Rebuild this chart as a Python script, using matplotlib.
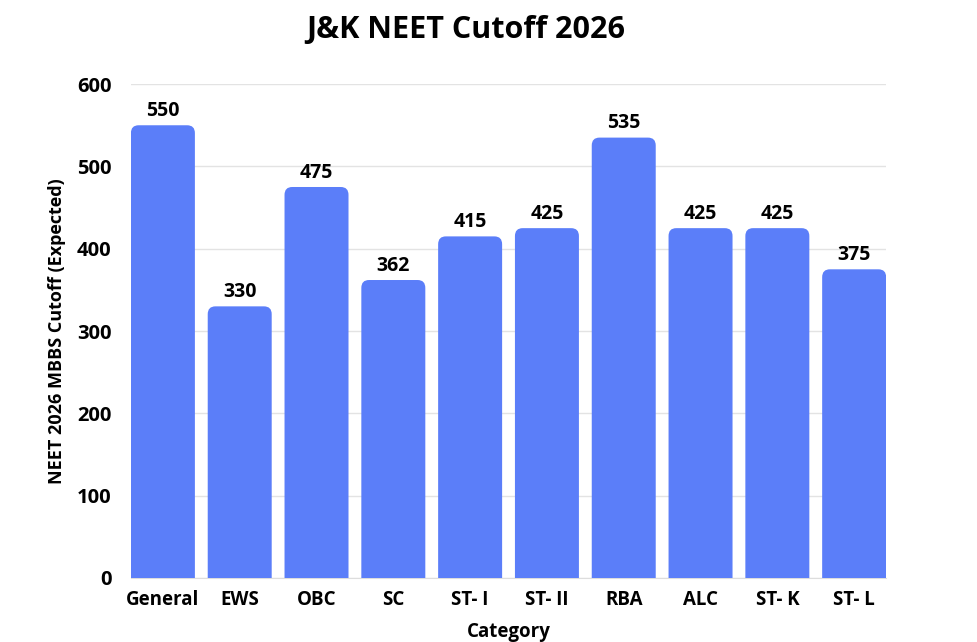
import matplotlib
matplotlib.use('Agg')
import matplotlib.pyplot as plt
from matplotlib.patches import FancyBboxPatch

# data
categories = ['General', 'EWS', 'OBC', 'SC', 'ST- I', 'ST- II', 'RBA', 'ALC', 'ST- K', 'ST- L']
cutoffs = [550, 330, 475, 362, 415, 425, 535, 425, 425, 375]
yticks = [0, 100, 200, 300, 400, 500, 600]

bar_color = '#5b7ef9'
bar_w = 0.833
plt.rcParams['font.family'] = ['Open Sans', 'DejaVu Sans']

fig = plt.figure(figsize=(9.77, 6.42), dpi=100)
ax = fig.add_axes([0.134, 0.0997, 0.773, 0.7693])

bars = ax.bar(categories, cutoffs, width=bar_w, color=bar_color)
# swap the plain bars for ones with rounded tops
for b in bars:
    x, w, h = b.get_x(), b.get_width(), b.get_height()
    b.set_visible(False)
    p = FancyBboxPatch((x, -30), w, h + 30,
                       boxstyle='round,pad=0,rounding_size=0.1',
                       mutation_aspect=95, facecolor=bar_color,
                       edgecolor='none', zorder=3, clip_on=True)
    ax.add_patch(p)
    ax.text(x + w / 2, h + 5, str(h), ha='center', va='bottom',
            fontsize=14, fontweight='bold', color='black')

ax.set_xlim(-bar_w / 2, len(categories) - 1 + bar_w / 2)
ax.set_ylim(0, 600)
ax.set_yticks(yticks)
ax.grid(axis='y', color='#e3e3e3', linewidth=1, zorder=0)
ax.set_axisbelow(True)
for s in ['top', 'right', 'left']:
    ax.spines[s].set_visible(False)
ax.spines['bottom'].set_color('#dddddd')
ax.tick_params(length=0)
ax.tick_params(axis='y', pad=14)
ax.tick_params(axis='x', pad=9)
for lbl in ax.get_xticklabels():
    lbl.set_fontsize(13.5)
    lbl.set_fontweight('bold')
for lbl in ax.get_yticklabels():
    lbl.set_fontsize(14.5)
    lbl.set_fontweight('bold')

ax.set_xlabel('Category', fontsize=13.5, fontweight='bold', labelpad=8)
ax.set_ylabel('NEET 2026 MBBS Cutoff (Expected)', fontsize=13, fontweight='bold', labelpad=8)
fig.suptitle('J&K NEET Cutoff 2026', x=0.477, y=0.977, fontsize=22, fontweight='bold')

fig.savefig('out.png', dpi=100, facecolor='white')
